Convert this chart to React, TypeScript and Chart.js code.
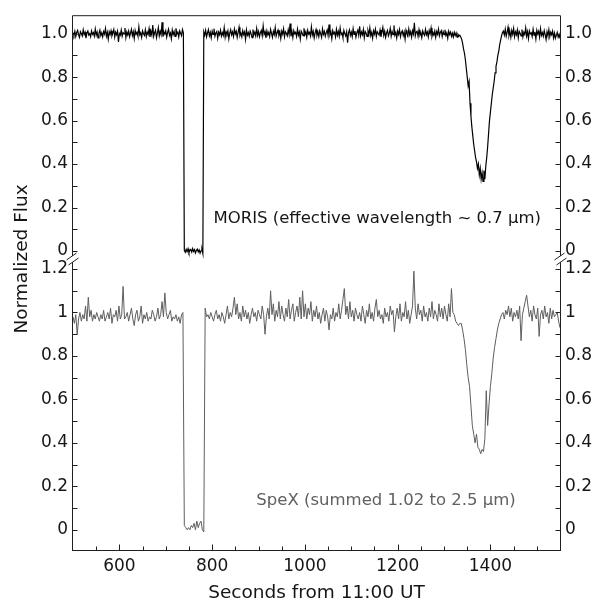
import React, { useEffect, useRef } from 'react';
import { Chart, registerables } from 'chart.js';

Chart.register(...registerables);

const FONT = '"DejaVu Sans", "Liberation Sans", sans-serif';
const TEXT = '#161616';
const AXIS = '#202020';

// ---- axes ----
const X_RANGE = [500, 1550];
const xTickValues = [600, 800, 1000, 1200, 1400];
const xMinorTicks = [550, 650, 700, 750, 850, 900, 950, 1050, 1100, 1150, 1250, 1300, 1350, 1450, 1500];
const TOP_RANGE = [-0.037, 1.085];
const BOTTOM_RANGE = [-0.0975, 1.246];
const topTickValues = [0, 0.2, 0.4, 0.6, 0.8, 1.0];
const topTickLabels = ['0', '0.2', '0.4', '0.6', '0.8', '1.0'];
const topMinorTicks = [0.1, 0.3, 0.5, 0.7, 0.9];
const bottomTickValues = [0, 0.2, 0.4, 0.6, 0.8, 1.0, 1.2];
const bottomTickLabels = ['0', '0.2', '0.4', '0.6', '0.8', '1', '1.2'];
const bottomMinorTicks = [0.1, 0.3, 0.5, 0.7, 0.9, 1.1];

const xTitle = 'Seconds from 11:00 UT';
const yTitle = 'Normalized Flux';
const morisLabel = 'MORIS (effective wavelength ~ 0.7 μm)';
const spexLabel = 'SpeX (summed 1.02 to 2.5 μm)';

// ---- MORIS (2 s cadence) ----
const MORIS_STEP = 2;
const morisStartA = 500;
const morisA = [
  1.004,0.992,1.011,0.987,1.006,1.015,0.995,0.983,1.009,1.001,0.990,1.018,0.996,1.007,0.979,1.003,1.012,0.994,1.000,0.986,
  1.013,0.997,1.005,0.989,1.021,0.993,1.008,0.981,1.002,1.016,0.991,1.004,0.985,1.010,0.998,1.024,0.988,1.006,0.975,1.009,
  0.996,1.014,0.990,1.003,1.019,0.984,1.007,0.995,1.011,0.962,1.001,0.993,1.017,0.988,1.005,0.999,1.026,0.982,1.008,0.994,
  1.012,0.986,1.003,1.020,0.991,1.009,0.978,1.015,0.997,1.006,0.989,1.031,0.994,1.004,0.983,1.013,1.000,0.992,1.018,0.987,
  1.007,0.996,1.023,0.985,1.010,0.993,1.040,0.988,1.005,1.016,0.981,1.002,1.028,0.990,1.011,0.995,1.052,0.986,1.009,0.998,
  1.014,0.984,1.006,1.021,0.992,1.003,0.977,1.017,0.996,1.010,0.988,1.025,0.999,1.007,0.985,1.013,1.002,0.991,1.019,1.004,
];
const morisStartOcc = 740;
const morisOcc = [
  0.004,-0.006,0.008,-0.003,0.010,-0.008,0.002,0.007,-0.005,0.011,-0.002,0.006,-0.009,0.003,0.009,-0.004,0.005,-0.010,0.001,0.008,-0.012,
];
const morisStartB = 782;
const morisB = [
  1.008,0.993,1.015,0.986,1.004,1.019,0.990,1.006,0.981,1.012,
  0.997,1.023,0.988,1.003,1.010,0.979,1.007,0.995,1.016,0.989,
  1.005,0.992,1.027,0.984,1.009,0.998,1.013,0.976,1.002,1.018,
  0.994,1.008,0.987,1.021,0.999,1.011,0.983,1.006,1.030,0.991,
  1.003,0.985,1.014,0.996,1.008,0.974,1.017,0.993,1.005,0.988,
  1.012,1.000,0.982,1.019,0.995,1.007,0.989,1.024,0.992,1.010,
  0.986,1.004,1.015,0.990,1.036,0.997,1.009,0.981,1.013,0.994,
  1.006,0.987,1.020,1.001,0.983,1.011,0.996,1.028,0.989,1.004,
  1.016,0.992,1.007,0.978,1.012,0.998,1.023,0.985,1.009,1.002,
  0.990,1.018,0.995,1.047,0.988,1.010,0.982,1.014,0.999,1.006,
  0.987,1.021,0.993,1.008,0.975,1.012,1.003,0.991,1.025,0.996,
  1.009,0.984,1.016,0.998,1.006,0.989,1.031,0.994,1.011,0.980,
  1.004,1.019,0.992,1.007,0.986,1.013,1.000,0.983,1.022,0.997,
  1.010,0.988,1.005,1.017,0.991,1.042,0.995,1.008,0.977,1.014,
  0.999,1.006,0.985,1.020,0.993,1.011,0.988,1.026,0.996,1.003,
  0.982,1.015,1.001,0.990,1.009,0.958,1.004,1.018,0.992,1.007,
  0.986,1.023,0.997,1.012,0.984,1.005,1.016,0.993,1.034,0.989,
  1.008,0.995,1.019,0.981,1.010,1.002,0.988,1.014,0.996,1.027,
  0.991,1.006,0.979,1.013,0.998,1.021,0.987,1.009,1.001,0.994,
  1.017,0.985,1.007,1.029,0.992,1.011,0.983,1.004,1.015,0.990,
  1.002,1.024,0.988,1.010,0.996,1.038,0.993,1.006,0.980,1.012,
  0.997,1.019,0.986,1.005,1.013,0.991,1.008,0.975,1.016,1.001,
  0.989,1.022,0.995,1.009,0.984,1.014,0.998,1.050,0.990,1.007,
  1.011,0.987,1.018,0.994,1.004,0.982,1.013,1.000,0.992,1.020,
  0.996,1.008,0.985,1.015,0.999,1.026,0.988,1.005,0.993,1.012,
  0.983,1.010,0.997,1.021,0.990,1.006,1.014,0.987,1.009,0.995,
  1.018,0.992,1.004,0.979,1.011,0.996,1.007,0.988,1.002,0.985,
  1.006,0.991,1.003,0.984,0.997,0.989,0.993,
];
const morisStartDip = 1336;
const morisDip = [
  0.985,0.975,0.955,0.93,0.91,0.88,0.84,0.80,0.76,0.78,
  0.68,0.62,0.57,0.53,0.49,0.46,0.43,0.41,0.38,0.40,
  0.35,0.38,0.33,0.36,0.32,0.37,0.33,0.39,0.43,0.48,
  0.54,0.60,0.64,0.68,0.72,0.75,0.78,0.82,0.85,0.87,
  0.90,0.92,0.95,0.97,0.99,1.005,
];
const morisStartC = 1428;
const morisC = [
  1.012,0.994,1.021,0.988,1.006,1.030,0.991,1.009,0.983,1.015,
  0.997,1.024,0.986,1.008,0.995,1.017,0.981,1.011,1.002,0.990,
  1.019,0.985,1.006,0.996,1.027,0.989,1.010,0.978,1.013,0.999,
  1.004,0.987,1.020,0.993,1.008,0.976,1.016,0.998,1.011,0.984,
  1.023,0.992,1.005,0.988,1.014,0.996,0.973,1.009,0.990,1.018,
  0.986,1.007,0.995,1.012,0.981,1.003,0.979,0.992,1.006,0.984,
  0.997,0.978,
];

// ---- SpeX (3 s cadence) ----
const SPEX_STEP = 3;
const spexStartA = 500;
const spexA = [
  0.98,0.95,0.99,0.90,0.97,1.00,0.96,0.99,0.97,1.03,
  0.96,1.07,0.98,1.01,0.96,0.99,0.97,1.00,0.98,0.96,
  0.99,0.97,1.01,0.96,0.98,1.00,0.97,1.02,0.95,0.99,
  0.98,1.01,0.96,1.03,0.97,0.99,1.12,0.97,0.98,1.00,
  0.96,0.99,1.02,0.97,0.94,0.99,1.01,0.96,0.98,1.03,
  0.95,0.99,0.97,1.00,0.96,0.98,0.97,1.01,0.99,0.96,
  0.98,1.02,0.97,0.99,1.05,0.98,1.09,1.00,0.97,0.99,
  1.01,0.96,0.98,0.97,0.99,0.96,0.98,0.95,0.99,1.00,
];
const spexStartOcc = 740;
const spexOcc = [0.02,0.01,0.00,0.01,0.00,0.02,0.01,0.03,0.00,0.04,0.01,0.03,0.04,0.00,-0.01];
const spexStartB = 785;
const spexB = [
  1.02,0.98,0.99,0.97,1.00,0.98,0.96,0.99,1.01,0.97,
  0.99,0.96,1.00,0.98,0.95,0.99,1.03,0.97,1.00,0.98,
  1.02,1.07,0.99,1.04,0.97,1.00,0.96,1.03,0.98,1.01,
  0.97,1.00,0.95,0.99,1.02,0.98,1.00,0.96,1.01,0.99,
  0.97,1.03,0.99,0.90,0.98,1.02,0.97,1.10,0.99,1.04,
  0.96,1.01,0.98,1.05,0.97,1.03,0.99,0.96,1.02,0.98,
  1.06,0.97,1.01,1.04,0.96,1.00,1.03,0.98,1.07,0.97,
  1.10,0.98,1.04,0.97,1.02,0.99,1.05,0.96,1.01,0.98,
  1.03,0.97,1.00,0.95,0.99,1.02,0.96,1.01,0.98,0.92,
  0.99,0.97,1.02,0.96,1.00,0.98,1.04,0.97,1.01,1.06,
  1.11,0.99,1.03,0.97,1.05,0.98,1.01,0.96,1.02,0.99,
  0.97,1.00,0.96,1.03,0.99,0.95,1.01,0.98,1.04,0.97,
  1.00,0.96,1.02,1.06,0.98,1.01,0.97,0.99,0.95,1.02,
  0.98,1.00,0.96,1.03,0.99,1.01,0.91,0.98,1.02,0.97,
  1.04,0.96,1.00,0.98,1.05,0.97,1.01,0.95,0.99,1.03,
  1.19,1.02,0.97,1.04,0.99,1.01,0.96,1.03,0.98,1.00,
  0.96,1.02,0.98,1.05,0.97,1.01,0.99,0.96,1.04,0.98,
  1.02,0.97,1.03,0.99,0.96,1.04,0.98,1.11,1.00,0.99,
  0.96,0.95,0.94,0.95,
];
const spexStartDip = 1337;
const spexDip = [
  0.95,0.92,0.88,0.83,0.76,0.70,0.66,0.57,0.48,0.44,
  0.40,0.44,0.38,0.37,0.35,0.37,0.36,0.42,0.64,0.48,
  0.58,0.66,0.72,0.79,0.84,0.88,0.92,0.95,0.97,0.99,
];
const spexStartC = 1427;
const spexC = [
  1.00,0.97,1.01,0.99,1.03,0.98,1.02,0.96,1.00,0.98,
  1.01,0.97,1.03,0.87,0.99,1.02,1.05,1.08,1.03,0.98,
  1.01,0.96,1.03,0.99,0.97,1.02,0.89,0.99,1.01,0.97,
  1.03,0.98,1.00,0.95,1.02,0.97,1.01,0.98,0.99,1.00,
  0.96,0.93,
];

type Pt = { x: number; y: number };
const seg = (start: number, step: number, vals: number[]): Pt[] =>
  vals.map((v, i) => ({ x: start + i * step, y: v }));

const morisPoints: Pt[] = [
  ...seg(morisStartA, MORIS_STEP, morisA),
  ...seg(morisStartOcc, MORIS_STEP, morisOcc),
  ...seg(morisStartB, MORIS_STEP, morisB),
  ...seg(morisStartDip, MORIS_STEP, morisDip),
  ...seg(morisStartC, MORIS_STEP, morisC),
];
const spexPoints: Pt[] = [
  ...seg(spexStartA, SPEX_STEP, spexA),
  ...seg(spexStartOcc, SPEX_STEP, spexOcc),
  ...seg(spexStartB, SPEX_STEP, spexB),
  ...seg(spexStartDip, SPEX_STEP, spexDip),
  ...seg(spexStartC, SPEX_STEP, spexC),
];

const decorPlugin = {
  id: 'decor',
  afterDraw(chart: any) {
    const { ctx, chartArea: ca, scales } = chart;
    const xs = scales.x;
    const yT = scales.yTop;
    const yB = scales.yBot;
    const L = ca.left - 0.5;
    const R = ca.right + 0.5;
    const T = ca.top + 0.5;
    const B = ca.bottom - 0.5;
    const brk = Math.round(yT.bottom);
    ctx.save();
    ctx.strokeStyle = AXIS;
    ctx.lineWidth = 1;
    ctx.beginPath();
    ctx.moveTo(L, T); ctx.lineTo(R, T);
    ctx.moveTo(L - 0.5, B); ctx.lineTo(R + 0.5, B);
    for (const X of [L, R]) {
      ctx.moveTo(X, T); ctx.lineTo(X, brk - 3);
      ctx.moveTo(X, brk + 3); ctx.lineTo(X, B);
    }
    // y ticks (inside)
    const yt = (scale: any, vals: number[]) => {
      vals.forEach((v) => {
        const py = Math.round(scale.getPixelForValue(v)) + 0.5;
        ctx.moveTo(L, py); ctx.lineTo(L + 5, py);
        ctx.moveTo(R, py); ctx.lineTo(R - 5, py);
      });
    };
    yt(yT, topTickValues); yt(yT, topMinorTicks);
    yt(yB, bottomTickValues); yt(yB, bottomMinorTicks);
    // x ticks (inside, bottom)
    const xt = (vals: number[], len: number) => {
      vals.forEach((v) => {
        const px = Math.round(xs.getPixelForValue(v)) + 0.5;
        ctx.moveTo(px, B); ctx.lineTo(px, B - len);
      });
    };
    xt(xTickValues, 6); xt(xMinorTicks, 4);
    ctx.stroke();
    // break marks
    ctx.beginPath();
    for (const X of [L, R]) {
      ctx.moveTo(X - 6, brk + 1); ctx.lineTo(X + 4, brk - 6);
      ctx.moveTo(X - 4, brk + 6); ctx.lineTo(X + 6, brk - 1);
    }
    ctx.stroke();

    // annotations
    ctx.font = `16.5px ${FONT}`;
    ctx.textAlign = 'center';
    ctx.textBaseline = 'alphabetic';
    ctx.fillStyle = TEXT;
    ctx.fillText(morisLabel, xs.getPixelForValue(1156), yT.getPixelForValue(0.131));
    ctx.fillStyle = '#606060';
    ctx.fillText(spexLabel, xs.getPixelForValue(1175), yB.getPixelForValue(0.113));

    // axis titles
    ctx.fillStyle = TEXT;
    ctx.font = `18.5px ${FONT}`;
    ctx.fillText(xTitle, (ca.left + ca.right) / 2, 598);
    ctx.translate(27, brk);
    ctx.rotate(-Math.PI / 2);
    ctx.fillText(yTitle, 0, 0);
    ctx.restore();
  },
};

const yAxis = (
  range: number[],
  tickVals: number[],
  tickLabels: string[],
  position: 'left' | 'right',
  stack: string,
) => ({
  type: 'linear' as const,
  position,
  stack,
  stackWeight: range[1] - range[0],
  min: range[0],
  max: range[1],
  bounds: 'data' as const,
  offset: false,
  grid: { display: false, drawTicks: false },
  border: { display: false },
  ticks: {
    autoSkip: false,
    padding: 5,
    color: TEXT,
    font: { family: FONT, size: 17 },
    callback: (_v: any, i: number) => tickLabels[i],
  },
  afterBuildTicks: (s: any) => {
    s.ticks = tickVals.map((v) => ({ value: v }));
  },
  afterFit: (s: any) => {
    s.width = position === 'left' ? 73 : 35;
  },
});

export default function App() {
  const ref = useRef<HTMLCanvasElement | null>(null);
  useEffect(() => {
    document.body.style.margin = '0';
    const canvas = ref.current;
    if (!canvas) return;
    const chart = new Chart(canvas, {
      type: 'line',
      data: {
        datasets: [
          {
            label: 'SpeX',
            data: spexPoints,
            xAxisID: 'x',
            yAxisID: 'yBot',
            borderColor: '#5e5e5e',
            borderWidth: 1,
            pointRadius: 0,
            tension: 0,
            fill: false,
          },
          {
            label: 'MORIS',
            data: morisPoints,
            xAxisID: 'x',
            yAxisID: 'yTop',
            borderColor: '#000000',
            borderWidth: 1.2,
            pointRadius: 0,
            tension: 0,
            fill: false,
          },
        ],
      },
      options: {
        responsive: false,
        animation: false,
        devicePixelRatio: 1,
        layout: { padding: { top: 14, left: 0, right: 0, bottom: 0 } },
        plugins: { legend: { display: false }, tooltip: { enabled: false } },
        scales: {
          x: {
            type: 'linear',
            position: 'bottom',
            min: X_RANGE[0],
            max: X_RANGE[1],
            grid: { display: false, drawTicks: false },
            border: { display: false },
            ticks: {
              autoSkip: false,
              maxRotation: 0,
              padding: 5,
              color: TEXT,
              font: { family: FONT, size: 17 },
              callback: (v: any) => String(v),
            },
            afterBuildTicks: (s: any) => {
              s.ticks = xTickValues.map((v) => ({ value: v }));
            },
            afterFit: (s: any) => {
              s.height = 50;
            },
          },
          // left stack is laid out in reverse definition order
          yBot: yAxis(BOTTOM_RANGE, bottomTickValues, bottomTickLabels, 'left', 'L'),
          yTop: yAxis(TOP_RANGE, topTickValues, topTickLabels, 'left', 'L'),
          yTopR: yAxis(TOP_RANGE, topTickValues, topTickLabels, 'right', 'R'),
          yBotR: yAxis(BOTTOM_RANGE, bottomTickValues, bottomTickLabels, 'right', 'R'),
        },
      } as any,
      plugins: [decorPlugin],
    });
    return () => chart.destroy();
  }, []);
  return (
    <div style={{ width: 595, height: 601 }}>
      <canvas ref={ref} width={595} height={601} style={{ display: 'block' }} />
    </div>
  );
}
